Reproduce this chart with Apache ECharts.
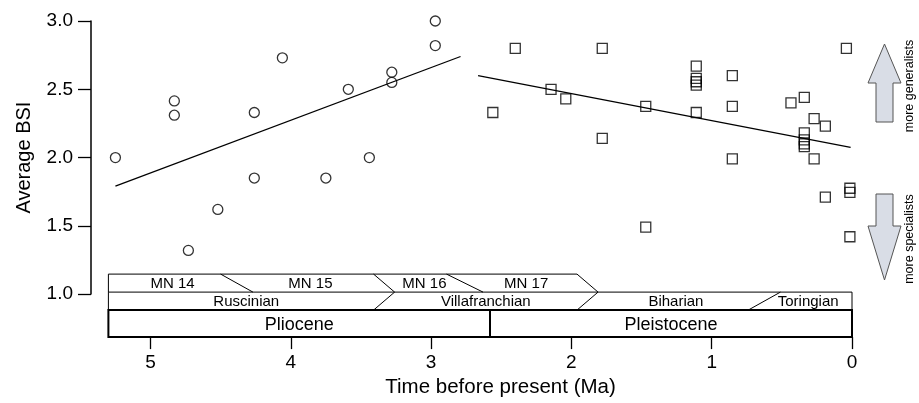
<!DOCTYPE html>
<html>
<head>
<meta charset="utf-8">
<script src="https://cdn.jsdelivr.net/npm/echarts@6/dist/echarts.min.js"></script>
<style>html,body{margin:0;padding:0;background:#fff}#c{width:919px;height:403px}</style>
</head>
<body>
<div id="c"></div>
<script>
// ---- data ----
const xTicks = [0, 1, 2, 3, 4, 5];
const plioAge = [5.25, 4.83, 4.83, 4.73, 4.52, 4.26, 4.26, 4.06, 3.75, 3.59, 3.44, 3.28, 3.28, 2.97, 2.97];
const plioBSI = [2.00, 2.415, 2.31, 1.32, 1.62, 2.33, 1.85, 2.73, 1.85, 2.50, 2.00, 2.625, 2.55, 3.00, 2.82];
const pleistAge = [2.56, 2.40, 2.145, 2.04, 1.78, 1.78, 1.47, 1.47, 1.11, 1.11, 1.11, 1.11, 1.11, 0.853, 0.853, 0.853, 0.435, 0.34, 0.34, 0.34, 0.34, 0.34, 0.27, 0.27, 0.19, 0.19, 0.04, 0.015, 0.015, 0.015];
const pleistBSI = [2.33, 2.80, 2.50, 2.43, 2.80, 2.14, 2.375, 1.49, 2.67, 2.58, 2.555, 2.53, 2.33, 2.60, 2.375, 1.99, 2.40, 2.44, 2.18, 2.13, 2.10, 2.08, 2.285, 1.99, 2.23, 1.71, 2.80, 1.775, 1.745, 1.42];
const plioTrendAge = [5.25, 2.79];
const plioTrendBSI = [1.79, 2.74];
const pleistTrendAge = [2.665, 0.01];
const pleistTrendBSI = [2.60, 2.075];

const mnLabels = ['MN 14', 'MN 15', 'MN 16', 'MN 17'];
const mnBounds = [[5.3, 5.3], [4.50, 4.27], [3.41, 3.26], [2.89, 2.63], [1.96, 1.81]]; // [top, bottom]
const stageLabels = ['Ruscinian', 'Villafranchian', 'Biharian', 'Toringian'];
const stageBounds = [[5.3, 5.3], [3.26, 3.41], [1.81, 1.96], [0.51, 0.74], [0, 0]]; // [top, bottom]
const epochLabels = ['Pliocene', 'Pleistocene'];
const epochBounds = [5.3, 2.58, 0];

const FONT = "'Liberation Sans', Arial, Helvetica, sans-serif";
const zip = (a, b) => a.map((v, i) => [v, b[i]]);

const chart = echarts.init(document.getElementById('c'), null, {renderer: 'canvas'});

function renderTimeline(params, api) {
  const X = t => api.coord([t, 1])[0];
  const y0 = api.coord([0, 1])[1];
  const yA = y0 - 20, yB = y0 - 2, yC = y0 + 16, yD = y0 + 43;
  const ch = [];
  const line = (x1, y1, x2, y2, w) => ch.push({type: 'line', shape: {x1, y1, x2, y2}, style: {stroke: '#000', lineWidth: w}});
  const text = (s, x, y, size) => ch.push({type: 'text', style: {text: s, x, y, align: 'center', verticalAlign: 'middle', fontSize: size, fontFamily: FONT, fill: '#000'}});
  // MN row
  const mnEnd = mnBounds[mnBounds.length - 1];
  line(X(5.3), yA, X(mnEnd[0]), yA, 1);
  line(X(5.3), yA, X(5.3), yB, 1);
  for (let i = 1; i < mnBounds.length; i++) line(X(mnBounds[i][0]), yA, X(mnBounds[i][1]), yB, 1);
  mnLabels.forEach((s, i) => {
    const a = (mnBounds[i][0] + mnBounds[i][1]) / 2, b = (mnBounds[i + 1][0] + mnBounds[i + 1][1]) / 2;
    text(s, (X(a) + X(b)) / 2, (yA + yB) / 2 + 1, 15);
  });
  // stage row
  line(X(5.3), yB, X(0), yB, 1);
  line(X(5.3), yB, X(5.3), yC, 1);
  line(X(0), yB, X(0), yC, 1);
  for (let i = 1; i < stageBounds.length - 1; i++) line(X(stageBounds[i][0]), yB, X(stageBounds[i][1]), yC, 1);
  stageLabels.forEach((s, i) => {
    const a = (stageBounds[i][0] + stageBounds[i][1]) / 2, b = (stageBounds[i + 1][0] + stageBounds[i + 1][1]) / 2;
    text(s, (X(a) + X(b)) / 2, (yB + yC) / 2 + 1, 15);
  });
  // epoch row
  ch.push({type: 'rect', shape: {x: X(epochBounds[0]), y: yC, width: X(epochBounds[2]) - X(epochBounds[0]), height: yD - yC}, style: {fill: 'none', stroke: '#000', lineWidth: 2}});
  for (let i = 1; i < epochBounds.length - 1; i++) line(X(epochBounds[i]), yC, X(epochBounds[i]), yD, 2);
  epochLabels.forEach((s, i) => text(s, (X(epochBounds[i]) + X(epochBounds[i + 1])) / 2, (yC + yD) / 2 + 1, 18));
  return {type: 'group', children: ch};
}

function arrow(up, cx, yTop, yBot) {
  const hw = 16.5, sw = 8.5, headLen = 39;
  let pts;
  if (up) {
    pts = [[cx, yTop], [cx + hw, yTop + headLen], [cx + sw, yTop + headLen], [cx + sw, yBot], [cx - sw, yBot], [cx - sw, yTop + headLen], [cx - hw, yTop + headLen]];
  } else {
    const h2 = yBot - 54;
    pts = [[cx - sw, yTop], [cx + sw, yTop], [cx + sw, h2], [cx + hw, h2], [cx, yBot], [cx - hw, h2], [cx - sw, h2]];
  }
  return {type: 'polygon', shape: {points: pts}, style: {fill: '#d9dde6', stroke: '#555', lineWidth: 1}};
}

const option = {
  backgroundColor: '#fff',
  animation: false,
  grid: {left: 91, right: 67, top: 21, bottom: 106, containLabel: false},
  xAxis: {
    type: 'value', min: 0, max: 5.424, inverse: true, offset: 43,
    axisLine: {show: false, onZero: false},
    axisTick: {show: true, length: 12, customValues: xTicks, lineStyle: {color: '#000', width: 1.3}},
    axisLabel: {customValues: xTicks, margin: 16, fontSize: 19, color: '#000', fontFamily: FONT, formatter: v => String(v)},
    splitLine: {show: false},
    name: 'Time before present (Ma)', nameLocation: 'middle', nameGap: 38,
    nameTextStyle: {fontSize: 20.5, color: '#000', fontFamily: FONT, padding: [0, 0, 0, 58]}
  },
  yAxis: {
    type: 'value', min: 1, max: 3, interval: 0.5, position: 'left',
    axisLine: {show: true, onZero: false, lineStyle: {color: '#000', width: 1.5}},
    axisTick: {show: true, length: 13, lineStyle: {color: '#000', width: 1.3}},
    axisLabel: {margin: 18, fontSize: 19, color: '#000', fontFamily: FONT, formatter: v => v.toFixed(1)},
    splitLine: {show: false},
    name: 'Average BSI', nameLocation: 'middle', nameGap: 57,
    nameTextStyle: {fontSize: 20, color: '#000', fontFamily: FONT}
  },
  series: [
    {type: 'custom', renderItem: renderTimeline, data: [[0, 1]], clip: false, silent: true, z: 1},
    {type: 'line', data: zip(plioTrendAge, plioTrendBSI), symbol: 'none', lineStyle: {color: '#000', width: 1.3}, silent: true, z: 2},
    {type: 'line', data: zip(pleistTrendAge, pleistTrendBSI), symbol: 'none', lineStyle: {color: '#000', width: 1.3}, silent: true, z: 2},
    {type: 'scatter', data: zip(plioAge, plioBSI), symbol: 'circle', symbolSize: 10,
      itemStyle: {color: 'rgba(255,255,255,0)', borderColor: '#000', borderWidth: 1.3}, z: 3},
    {type: 'scatter', data: zip(pleistAge, pleistBSI), symbol: 'rect', symbolSize: 10,
      itemStyle: {color: 'rgba(255,255,255,0)', borderColor: '#000', borderWidth: 1.3}, z: 3}
  ],
  graphic: [
    arrow(true, 884.5, 44, 122),
    arrow(false, 884.5, 194, 280),
    {type: 'text', x: 910, y: 86, rotation: Math.PI / 2, style: {text: 'more generalists', align: 'center', verticalAlign: 'middle', fontSize: 12.5, fontFamily: FONT, fill: '#000'}},
    {type: 'text', x: 910, y: 239, rotation: Math.PI / 2, style: {text: 'more specialists', align: 'center', verticalAlign: 'middle', fontSize: 12.5, fontFamily: FONT, fill: '#000'}}
  ]
};
chart.setOption(option);
</script>
</body>
</html>
